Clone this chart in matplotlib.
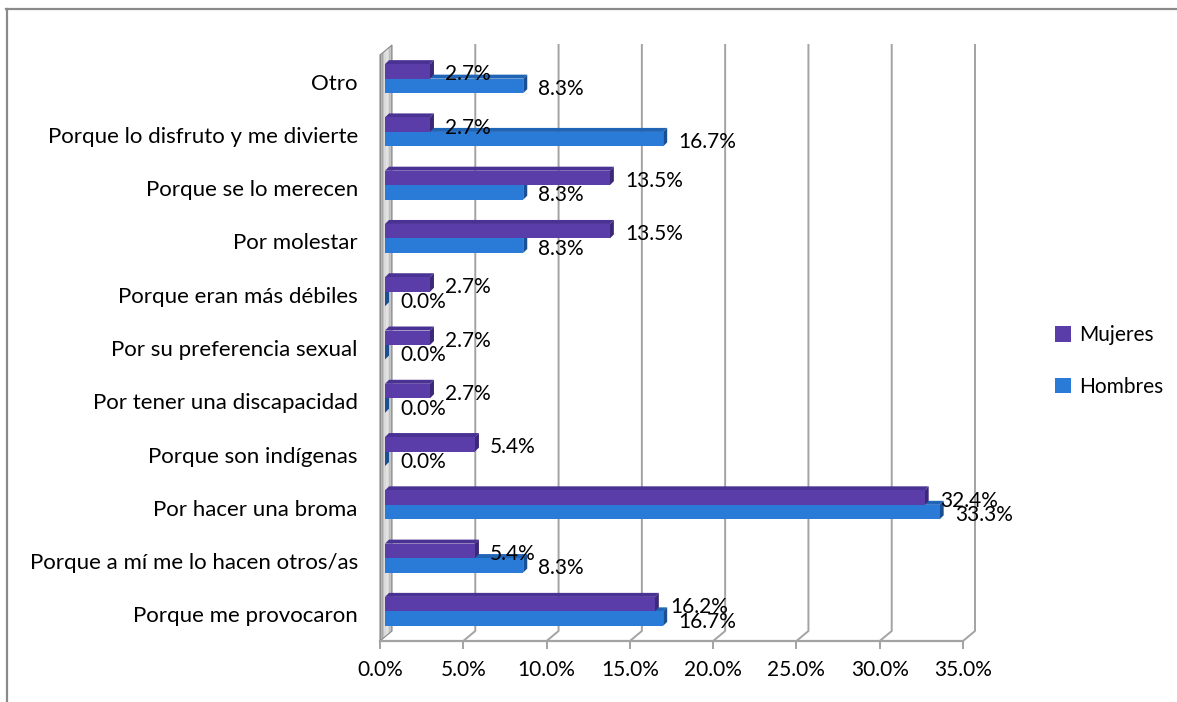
import matplotlib
matplotlib.use("Agg")
import matplotlib.pyplot as plt
from matplotlib.patches import Polygon, Patch
from matplotlib.lines import Line2D
from matplotlib.transforms import IdentityTransform
import numpy as np

plt.rcParams['font.family'] = ['Lato', 'DejaVu Sans']

categories = ["Otro", "Porque lo disfruto y me divierte", "Porque se lo merecen",
              "Por molestar", "Porque eran más débiles", "Por su preferencia sexual",
              "Por tener una discapacidad", "Porque son indígenas", "Por hacer una broma",
              "Porque a mí me lo hacen otros/as", "Porque me provocaron"]
mujeres = [2.7, 2.7, 13.5, 13.5, 2.7, 2.7, 2.7, 5.4, 32.4, 5.4, 16.2]
hombres = [8.3, 16.7, 8.3, 8.3, 0.0, 0.0, 0.0, 0.0, 33.3, 8.3, 16.7]
series_names = ["Mujeres", "Hombres"]
xticks = [0, 5, 10, 15, 20, 25, 30, 35]

W, H = 1177, 702
fig = plt.figure(figsize=(W / 100, H / 100), dpi=100)
ax = fig.add_axes([380 / W, (H - 641) / H, 583 / W, 586 / H])
ax.set_xlim(0, 35)
ax.set_ylim(-0.5, 10.5)
ax.patch.set_visible(False)
for s in ax.spines.values():
    s.set_visible(False)

FS = 15
FS_CAT = 16
GRID = '#a3a3a3'
ID = IdentityTransform()
PURPLE = ('#5b3daa', '#4a3194', '#3c2878')
BLUE = ('#2a7bd8', '#2064b6', '#1a4f94')

def D(x, y, ox=0, oy=0):
    p = ax.transData.transform((x, y))
    return (p[0] + ox, p[1] + oy)

def poly(pts, fc, ec='none', lw=0, z=2):
    ax.add_patch(Polygon(pts, closed=True, facecolor=fc, edgecolor=ec, linewidth=lw,
                         transform=ID, clip_on=False, zorder=z))

BACK = (12, 10)
ylo, yhi = -0.5, 10.5

# back gridlines with floor diagonals
for xv in xticks[1:]:
    pts = [D(xv, yhi, *BACK), D(xv, ylo, *BACK), D(xv, ylo)]
    ax.add_line(Line2D([p[0] for p in pts], [p[1] for p in pts], color=GRID, lw=1.4,
                       transform=ID, clip_on=False, zorder=1))

# left wall with gray gradient
shades = ['#8e8e8e', '#a6a6a6', '#c2c2c2', '#d8d8d8', '#e2e2e2', '#d6d6d6', '#c0c0c0', '#aaaaaa']
nsh = len(shades)
for k, c in enumerate(shades):
    f0, f1 = k / nsh, (k + 1) / nsh
    poly([D(0, ylo, BACK[0] * f0, BACK[1] * f0), D(0, yhi, BACK[0] * f0, BACK[1] * f0),
          D(0, yhi, BACK[0] * f1, BACK[1] * f1), D(0, ylo, BACK[0] * f1, BACK[1] * f1)],
         c, z=1.5)
poly([D(0, ylo), D(0, yhi), D(0, yhi, *BACK), D(0, ylo, *BACK)], 'none', ec='#8a8a8a', lw=0.8, z=1.6)

# front floor line (bottom spine) and ticks
ax.spines['bottom'].set_visible(True)
ax.spines['bottom'].set_color(GRID)
ax.spines['bottom'].set_linewidth(1.6)
ax.set_xticks(xticks, [f"{v:.1f}%" for v in xticks])
ax.tick_params(axis='x', length=6, width=1.4, color=GRID, labelsize=FS, pad=8)

ypos = np.arange(len(categories))[::-1]
ax.set_yticks(ypos, categories)
ax.tick_params(axis='y', length=0, labelsize=FS_CAT, pad=16)

BAR_OFF = (5, 3)
DEPTH = (4, 4)
bar_h = 0.272

def prism(v, y0, y1, cols, z):
    bx, by = BAR_OFF
    dx, dy = DEPTH
    poly([D(0, y1, bx, by), D(v, y1, bx, by), D(v, y1, bx + dx, by + dy), D(0, y1, bx + dx, by + dy)], cols[1], z=z)
    poly([D(v, y0, bx, by), D(v, y0, bx + dx, by + dy), D(v, y1, bx + dx, by + dy), D(v, y1, bx, by)], cols[2], z=z)
    poly([D(0, y0, bx, by), D(v, y0, bx, by), D(v, y1, bx, by), D(0, y1, bx, by)], cols[0], z=z)

LBL_DX = 20 * 0.72
for i, y in enumerate(ypos):
    prism(hombres[i], y - bar_h, y, BLUE, 3)
    prism(mujeres[i], y, y + bar_h, PURPLE, 4)
for i, y in enumerate(ypos):
    ax.annotate(f"{hombres[i]:.1f}%", xy=(hombres[i], y - bar_h / 2), xytext=(LBL_DX, 0),
                textcoords='offset points', va='center', ha='left', fontsize=FS, zorder=6,
                annotation_clip=False)
    ax.annotate(f"{mujeres[i]:.1f}%", xy=(mujeres[i], y + bar_h / 2), xytext=(LBL_DX, 0),
                textcoords='offset points', va='center', ha='left', fontsize=FS, zorder=6,
                annotation_clip=False)

handles = [Patch(facecolor=PURPLE[0]), Patch(facecolor=BLUE[0])]
fig.legend(handles, series_names, loc='center left', bbox_to_anchor=(1055 / W, 1 - 361 / H),
           frameon=False, handlelength=0.75, handleheight=0.75, handletextpad=0.4,
           labelspacing=1.5, fontsize=FS, borderaxespad=0, borderpad=0)

# outer chart border (top and left visible)
fig.add_artist(Line2D([6 / W, 1.0], [1 - 9 / H, 1 - 9 / H], color='#8a8a8a', lw=1.6,
                      transform=fig.transFigure))
fig.add_artist(Line2D([7 / W, 7 / W], [1 - 9 / H, 0.0], color='#8a8a8a', lw=1.6,
                      transform=fig.transFigure))

fig.savefig("out.png", dpi=100)
